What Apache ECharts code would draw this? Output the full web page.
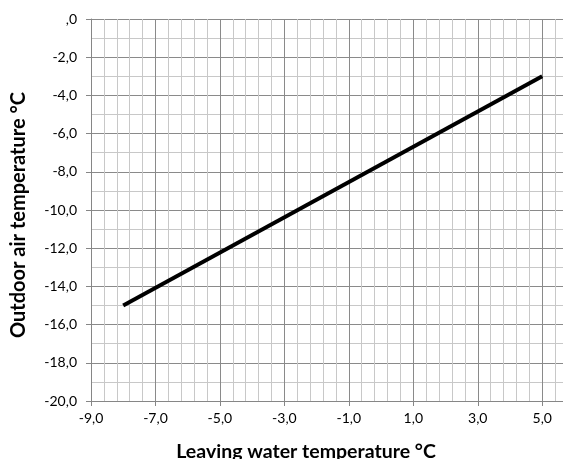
<!DOCTYPE html>
<html><head><meta charset="utf-8">
<script src="https://cdn.jsdelivr.net/npm/echarts@6/dist/echarts.min.js"></script>
<style>html,body{margin:0;padding:0;background:#fff}#c{width:563px;height:459px}</style>
</head><body><div id="c"></div>
<script>
const lwtX = [-8, 5];
const oatY = [-15, -3];
const xTitle = 'Leaving water temperature °C';
const yTitle = 'Outdoor air temperature °C';

const fmt = v => {
  if (Math.abs(v) < 1e-9) return ',0';
  return v.toFixed(1).replace('.', ',');
};
const FONT = 'Lato';
const chart = echarts.init(document.getElementById('c'), null, {renderer: 'canvas'});
chart.setOption({
  animation: false,
  backgroundColor: '#fff',
  grid: {left: 91, top: 19, width: 477, bottom: 58, containLabel: false, outerBoundsMode: 'none'},
  graphic: [
    {type: 'text', x: 306, y: 452, z: 100,
     style: {text: xTitle, font: 'bold 19.5px Lato', fill: '#000', textAlign: 'center', textVerticalAlign: 'middle'}},
    {type: 'text', x: 19, y: 215, rotation: Math.PI / 2, z: 100,
     style: {text: yTitle, font: 'bold 20px Lato', fill: '#000', textAlign: 'center', textVerticalAlign: 'middle'}}
  ],
  xAxis: [
    {type: 'value', min: -9, max: 5.8, interval: 0.4, position: 'bottom',
     axisLine: {show: false}, axisTick: {show: false}, axisLabel: {show: false},
     splitLine: {show: true, lineStyle: {color: '#c8c8c8', width: 1}}},
    {type: 'value', min: -9, max: 5.8, interval: 2, position: 'bottom',
     axisLine: {show: true, onZero: false, lineStyle: {color: '#868686', width: 1}},
     axisTick: {show: true, length: 5, lineStyle: {color: '#868686'}},
     axisLabel: {show: true, showMaxLabel: false, margin: 10, formatter: fmt,
       fontFamily: FONT, fontSize: 14, color: '#000'},
     splitLine: {show: true, lineStyle: {color: '#8a8a8a', width: 1}}}
  ],
  yAxis: [
    {type: 'value', min: -20, max: 0, interval: 1,
     axisLine: {show: false}, axisTick: {show: false}, axisLabel: {show: false},
     splitLine: {show: true, lineStyle: {color: '#c8c8c8', width: 1}}},
    {type: 'value', min: -20, max: 0, interval: 2, position: 'left',
     axisLine: {show: true, onZero: false, lineStyle: {color: '#868686', width: 1}},
     axisTick: {show: true, length: 5, lineStyle: {color: '#868686'}},
     axisLabel: {show: true, margin: 14, formatter: fmt,
       fontFamily: FONT, fontSize: 14, color: '#000'},
     splitLine: {show: true, lineStyle: {color: '#8a8a8a', width: 1}}}
  ],
  series: [{
    type: 'line', xAxisIndex: 1, yAxisIndex: 1,
    data: lwtX.map((x, i) => [x, oatY[i]]),
    symbol: 'none', lineStyle: {color: '#000', width: 4}, z: 10
  }]
});
</script></body></html>
